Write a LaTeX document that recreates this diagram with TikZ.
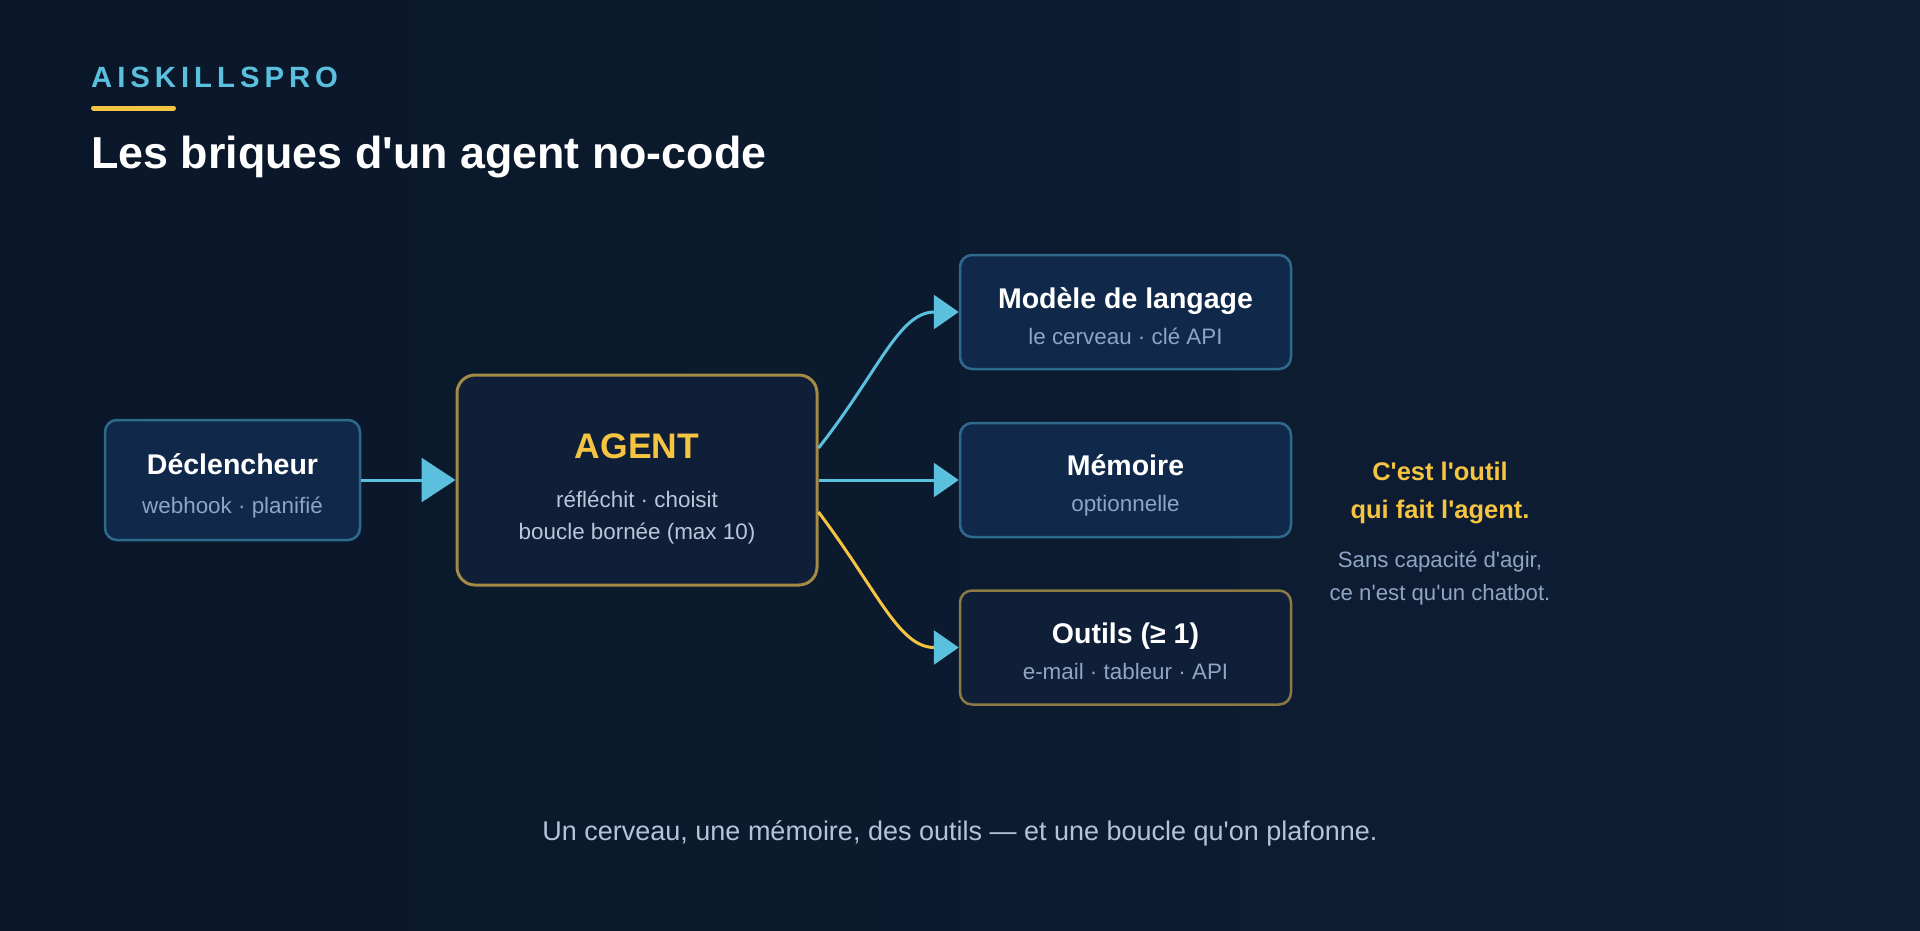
\documentclass[tikz,border=0pt]{standalone}
\usepackage{fontspec}
\setmainfont{Liberation Sans}[Ligatures=TeXOff]
\newfontfamily\brandfont[LetterSpace=17]{Liberation Sans}
\usetikzlibrary{arrows.meta,positioning}

\definecolor{bgleft}{HTML}{0A1729}
\definecolor{bgright}{HTML}{0E1E35}
\definecolor{brickfill}{HTML}{10294A}
\definecolor{brickline}{HTML}{2D6A8B}
\definecolor{brainfill}{HTML}{0F1F38}
\definecolor{brainline}{HTML}{A38A45}
\definecolor{toolline}{HTML}{8B7A45}
\definecolor{cyanlink}{HTML}{5BC0DE}
\definecolor{goldtext}{HTML}{F5C542}
\definecolor{subgray}{HTML}{8EA5C4}
\definecolor{footgray}{HTML}{B4C4D8}

\begin{document}
\begin{tikzpicture}[x=1pt, y=-1pt,
        brick/.style={draw=brickline, fill=brickfill, line width=2.5pt, rounded corners=12pt,
            minimum width=331pt, minimum height=114pt},
        brain/.style={draw=brainline, fill=brainfill, line width=3pt, rounded corners=18pt,
            minimum width=360pt, minimum height=210pt},
        ttl/.style={anchor=base, inner sep=0, text=white, font=\fontsize{28.5}{32}\selectfont\bfseries},
        sub/.style={anchor=base, inner sep=0, text=subgray, font=\fontsize{22.4}{26}\selectfont},
        link/.style={draw=cyanlink, line width=3pt, -{Triangle[length=25pt, width=34pt, color=cyanlink]}}
    ]

    % Background
    \useasboundingbox (0,0) rectangle (1920,930);
    \shade[left color=bgleft, right color=bgright] (0,0) rectangle (1920,930);

    % Header
    \node[anchor=base west, inner sep=0, text=cyanlink, font=\brandfont\fontsize{29.3}{34}\selectfont\bfseries]
        (brand) at (91,87) {AISKILLSPRO};
    \draw[goldtext, line width=5pt, line cap=round] (93.5,108) -- (173.5,108);
    \node[anchor=base west, inner sep=0, text=white, font=\fontsize{44.8}{50}\selectfont\bfseries]
        (title) at (91,168) {Les briques d'un agent no-code};

    % Boxes
    \node[brick, minimum width=255pt, minimum height=120pt] (trig) at (232.5,480) {};
    \node[brain] (agent) at (637,480) {};
    \node[brick] (llm) at (1125.5,312) {};
    \node[brick] (mem) at (1125.5,480) {};
    \node[brick, draw=toolline, fill=brainfill] (tools) at (1125.5,647.5) {};

    % Box texts
    \node[ttl] (trigT) at ([yshift=6pt]trig.center) {Déclencheur};
    \node[sub] (trigS) at ([yshift=-33pt]trig.center) {webhook · planifié};

    \node[ttl, text=goldtext, font=\fontsize{35.5}{40}\selectfont\bfseries] (agentT) at ([yshift=22pt]agent.center) {AGENT};
    \node[sub, text=footgray!95] (agentS1) at ([yshift=-27pt]agent.center) {réfléchit · choisit};
    \node[sub, text=footgray!95] (agentS2) at ([yshift=-59pt]agent.center) {boucle bornée (max 10)};

    \node[ttl] (llmT) at ([yshift=4pt]llm.center) {Modèle de langage};
    \node[sub] (llmS) at ([yshift=-32pt]llm.center) {le cerveau · clé API};

    \node[ttl] (memT) at ([yshift=5pt]mem.center) {Mémoire};
    \node[sub] (memS) at ([yshift=-31pt]mem.center) {optionnelle};

    \node[ttl] (toolsT) at ([yshift=4.5pt]tools.center) {Outils (≥ 1)};
    \node[sub] (toolsS) at ([yshift=-31.5pt]tools.center) {e-mail · tableur · API};

    % Side note
    \node[ttl, text=goldtext, font=\fontsize{25.5}{30}\selectfont\bfseries] (noteA) at (1440,480) {C'est l'outil};
    \node[ttl, text=goldtext, font=\fontsize{25.5}{30}\selectfont\bfseries] (noteB) at (1440,518) {qui fait l'agent.};
    \node[sub, font=\fontsize{22.2}{25}\selectfont] (noteC) at (1440,567) {Sans capacité d'agir,};
    \node[sub, font=\fontsize{22.2}{25}\selectfont] (noteD) at (1440,600) {ce n'est qu'un chatbot.};

    % Footer
    \node[anchor=base, inner sep=0, text=footgray, font=\fontsize{27}{32}\selectfont]
        (foot) at (960,840) {Un cerveau, une mémoire, des outils — et une boucle qu'on plafonne.};

    % Edges
    \draw[link, -{Triangle[length=34pt, width=44pt, color=cyanlink]}] (trig) -- (agent);
    \draw[link] ([yshift=32pt]agent.east) .. controls +(60,-76) and +(-60,0) .. (llm.west);
    \draw[link] (agent) -- (mem);
    \draw[link, draw=goldtext] ([yshift=-32pt]agent.east) .. controls +(60,80) and +(-60,0) .. (tools.west);

\end{tikzpicture}
\end{document}
